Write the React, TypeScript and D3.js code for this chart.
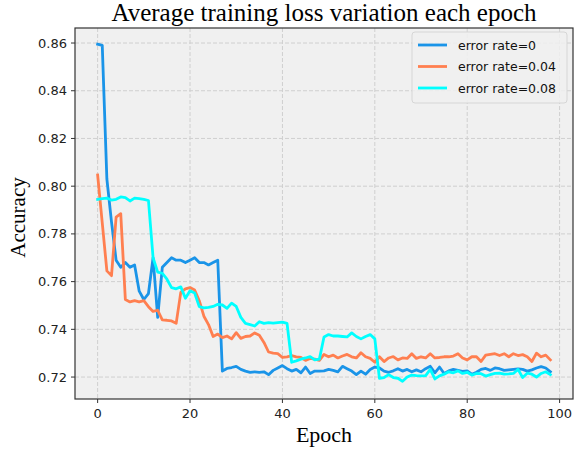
import { useMemo } from 'react';
import * as d3 from 'd3';

// accuracy per epoch
const err0 = [
  0.8595, 0.859, 0.803, 0.785, 0.769, 0.766, 0.768, 0.766, 0.767, 0.756,
  0.7525, 0.755, 0.77, 0.745, 0.766, 0.768, 0.77, 0.769, 0.769, 0.768,
  0.769, 0.77, 0.768, 0.768, 0.767, 0.768, 0.769, 0.7225, 0.7236, 0.724,
  0.7245, 0.7232, 0.7225, 0.722, 0.7222, 0.722, 0.7222, 0.721, 0.7228, 0.7238,
  0.7248, 0.7235, 0.7225, 0.7232, 0.7218, 0.7242, 0.7215, 0.7225, 0.7225, 0.7226,
  0.7232, 0.7228, 0.7222, 0.7245, 0.7235, 0.7225, 0.721, 0.7225, 0.7212, 0.7232,
  0.7242, 0.7238, 0.7225, 0.722, 0.7226, 0.7235, 0.7225, 0.7232, 0.7222, 0.723,
  0.7222, 0.7235, 0.7245, 0.7218, 0.7242, 0.7215, 0.7226, 0.7232, 0.7228, 0.7224,
  0.7226, 0.7212, 0.722, 0.7232, 0.7236, 0.7228, 0.7238, 0.7235, 0.7228, 0.723,
  0.7232, 0.7234, 0.7232, 0.7225, 0.723, 0.7238, 0.7244, 0.7238, 0.7222,
];

const err004 = [
  0.8047, 0.7846, 0.7645, 0.7625, 0.787, 0.7885, 0.7525, 0.7515, 0.752, 0.7515,
  0.752, 0.7495, 0.7475, 0.748, 0.744, 0.7438, 0.7435, 0.7425, 0.7555, 0.757,
  0.7575, 0.7565, 0.752, 0.7455, 0.742, 0.737, 0.738, 0.7365, 0.7372, 0.736,
  0.7386, 0.7362, 0.737, 0.7372, 0.7385, 0.7375, 0.7345, 0.7305, 0.73, 0.7298,
  0.7282, 0.7285, 0.729, 0.7285, 0.7282, 0.727, 0.7278, 0.7275, 0.727, 0.7295,
  0.7285, 0.7292, 0.728, 0.7288, 0.7295, 0.7285, 0.728, 0.7302, 0.7285, 0.7278,
  0.7262, 0.7285, 0.7265, 0.728, 0.7286, 0.7272, 0.728, 0.7278, 0.7298, 0.7278,
  0.7285, 0.728, 0.7298, 0.728, 0.7282, 0.7285, 0.7285, 0.7288, 0.7298, 0.728,
  0.7272, 0.7285, 0.7285, 0.7265, 0.7292, 0.7295, 0.7298, 0.729, 0.7298, 0.7285,
  0.7298, 0.729, 0.7294, 0.7285, 0.7265, 0.73, 0.7285, 0.7292, 0.7272,
];

const err008 = [
  0.7945, 0.7948, 0.795, 0.7942, 0.7945, 0.7955, 0.7952, 0.7938, 0.795, 0.7948,
  0.7945, 0.794, 0.77, 0.764, 0.7635, 0.761, 0.7575, 0.757, 0.7578, 0.753,
  0.7562, 0.7552, 0.7495, 0.749, 0.7492, 0.7496, 0.7505, 0.7502, 0.7488, 0.751,
  0.7496, 0.745, 0.7425, 0.742, 0.7414, 0.7432, 0.7425, 0.7428, 0.7426, 0.7428,
  0.743, 0.7425, 0.7262, 0.7268, 0.7275, 0.728, 0.7286, 0.7272, 0.7275, 0.7368,
  0.7378, 0.7372, 0.7372, 0.737, 0.7368, 0.7385, 0.737, 0.736, 0.737, 0.7378,
  0.736, 0.7195, 0.7198, 0.721, 0.7198, 0.7195, 0.7182, 0.72, 0.7208, 0.7206,
  0.7205, 0.7206, 0.7232, 0.7192, 0.7205, 0.7212, 0.7222, 0.7218, 0.7226, 0.7215,
  0.722, 0.7208, 0.7215, 0.7214, 0.7204, 0.721, 0.7215, 0.7216, 0.7212, 0.7213,
  0.7215, 0.7232, 0.7198, 0.7216, 0.7212, 0.72, 0.7215, 0.7222, 0.721,
];

const seriesNames = ['error rate=0', 'error rate=0.04', 'error rate=0.08'];
const seriesColors = ['#1a94e8', '#ff7f50', '#00ffff'];
const xTicks = [0, 20, 40, 60, 80, 100];
const yTicks = [0.72, 0.74, 0.76, 0.78, 0.8, 0.82, 0.84, 0.86];

const W = 574;
const H = 450;
const m = { left: 75, right: 1, top: 28, bottom: 51 };

export default function App() {
  const series = [err0, err004, err008];
  const x = d3.scaleLinear().domain([-4.9, 102.9]).range([m.left, W - m.right]);
  const y = d3.scaleLinear().domain([0.7108, 0.8663]).range([H - m.bottom, m.top]);

  const paths = useMemo(
    () =>
      series.map((vals) =>
        d3
          .line<number>()
          .x((_, i) => x(i))
          .y((v) => y(v))(vals) ?? ''
      ),
    []
  );

  const x0 = m.left;
  const x1 = W - m.right;
  const y0 = H - m.bottom;
  const y1 = m.top;

  return (
    <svg
      width={W}
      height={H}
      viewBox={`0 0 ${W} ${H}`}
      style={{ position: 'absolute', left: 0, top: 0, background: '#fff' }}
    >
      <defs>
        <clipPath id="plot">
          <rect x={x0} y={y1} width={x1 - x0} height={y0 - y1} />
        </clipPath>
      </defs>
      <rect x={x0} y={y1} width={x1 - x0} height={y0 - y1} fill="#f0f0f0" />

      {xTicks.map((t) => (
        <line key={`gx${t}`} x1={x(t)} x2={x(t)} y1={y1} y2={y0} stroke="#cfcfcf" strokeWidth={1} strokeDasharray="4,2" />
      ))}
      {yTicks.map((t) => (
        <line key={`gy${t}`} x1={x0} x2={x1} y1={y(t)} y2={y(t)} stroke="#cfcfcf" strokeWidth={1} strokeDasharray="4,2" />
      ))}

      <g clipPath="url(#plot)">
        {paths.map((d, i) => (
          <path key={i} d={d} fill="none" stroke={seriesColors[i]} strokeWidth={2.8} strokeLinejoin="round" strokeLinecap="square" />
        ))}
      </g>

      <rect x={x0} y={y1} width={x1 - x0} height={y0 - y1} fill="none" stroke="#333" strokeWidth={1.2} />

      {xTicks.map((t) => (
        <g key={`tx${t}`}>
          <line x1={x(t)} x2={x(t)} y1={y0} y2={y0 + 4} stroke="#333" />
          <text x={x(t)} y={y0 + 19} textAnchor="middle" fontFamily="DejaVu Sans" fontSize={13} fill="#222">
            {t}
          </text>
        </g>
      ))}
      {yTicks.map((t) => (
        <g key={`ty${t}`}>
          <line x1={x0 - 4} x2={x0} y1={y(t)} y2={y(t)} stroke="#333" />
          <text x={x0 - 8} y={y(t) + 4.5} textAnchor="end" fontFamily="DejaVu Sans" fontSize={13} fill="#222">
            {t.toFixed(2)}
          </text>
        </g>
      ))}

      <text x={(x0 + x1) / 2} y={21} textAnchor="middle" fontFamily="Liberation Serif" fontSize={25} fill="#000">
        Average training loss variation each epoch
      </text>
      <text x={(x0 + x1) / 2} y={442} textAnchor="middle" fontFamily="Liberation Serif" fontSize={22} fill="#000">
        Epoch
      </text>
      <text
        transform={`translate(25, ${(y0 + y1) / 2 + 4}) rotate(-90)`}
        textAnchor="middle"
        fontFamily="Liberation Serif"
        fontSize={21}
        fill="#000"
      >
        Accuracy
      </text>

      <g transform="translate(412, 32)">
        <rect x={0} y={0} width={155} height={71} rx={3} fill="#f0f0f0" fillOpacity={0.85} stroke="#d6d6d6" />
        {seriesNames.map((name, i) => (
          <g key={name} transform={`translate(0, ${13 + i * 21.5})`}>
            <line x1={6} x2={35} y1={0} y2={0} stroke={seriesColors[i]} strokeWidth={2.8} />
            <text x={46} y={4.5} fontFamily="Comic Sans MS, DejaVu Sans" fontSize={12.5} fill="#111">
              {name}
            </text>
          </g>
        ))}
      </g>
    </svg>
  );
}
